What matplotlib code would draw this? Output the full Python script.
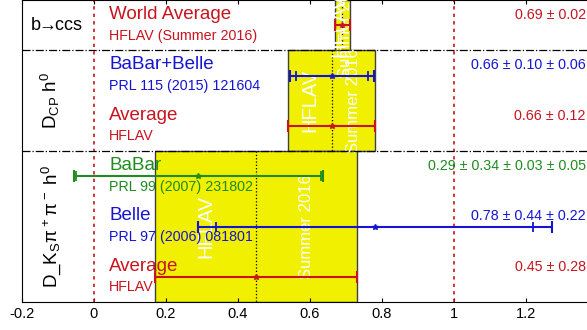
import numpy as np
import matplotlib
matplotlib.use("Agg")
import matplotlib.pyplot as plt
from matplotlib.patches import Rectangle

plt.rcParams['font.family'] = ['Liberation Sans', 'DejaVu Sans']
plt.rcParams['mathtext.fontset'] = 'custom'
plt.rcParams['mathtext.rm'] = 'Liberation Sans'
plt.rcParams['mathtext.it'] = 'Liberation Sans'

# groups of measurements
group_labels = [r'b$\!\!\rightarrow\!\!$ccs', r'D$_{CP}$ h$^0$', r'D_K$_S\pi^+\pi^-$ h$^0$']
group_sizes = [1, 2, 3]
group_avg = [0.69, 0.66, 0.45]
group_avg_err = [0.02, 0.12, 0.28]

# individual entries, top to bottom
names = ['World Average', 'BaBar+Belle', 'Average', 'BaBar', 'Belle', 'Average']
refs = ['HFLAV (Summer 2016)', 'PRL 115 (2015) 121604', 'HFLAV',
        'PRL 99 (2007) 231802', 'PRL 97 (2006) 081801', 'HFLAV']
central = [0.69, 0.66, 0.66, 0.29, 0.78, 0.45]
stat = [0.02, 0.10, 0.12, 0.34, 0.44, 0.28]
syst = [[], [0.06], [], [0.03, 0.05], [0.22], []]

RED = '#c8141e'
BLUE = '#1414d2'
GREEN = '#1e8c1e'
YELLOW = '#f0f000'
colors = [RED, BLUE, RED, GREEN, BLUE, RED]

fig = plt.figure(figsize=(5.87, 3.30), dpi=100)
ax = fig.add_axes([22 / 587, 28 / 330, 576 / 587, 302 / 330])
ax.set_xlim(-0.2, 1.4)
ax.set_ylim(6.5, 0.5)

# averaged bands per group
start = 0.5
for lab, n, c, e in zip(group_labels, group_sizes, group_avg, group_avg_err):
    y0, y1 = start, start + n
    band = Rectangle((c - e, y0), 2 * e, n, facecolor=YELLOW,
                     edgecolor='0.25', linewidth=1, zorder=1)
    ax.add_patch(band)
    ax.plot([c, c], [y0, y1], color='k', ls=':', lw=0.9, zorder=2)
    ym = (y0 + y1) / 2
    t1 = ax.text(c - 0.5 * e, ym, 'HFLAV', rotation=90, color='white',
                 fontsize=14.5, ha='center', va='center', zorder=3)
    t2 = ax.text(c + 0.5 * e, ym, 'Summer 2016', rotation=90, color='white',
                 fontsize=12, ha='center', va='center', zorder=3)
    for t in (t1, t2):
        t.set_clip_path(band)
    if n == 1:
        ax.text(-0.105, ym, lab, fontsize=13, ha='center', va='center')
    else:
        ax.text(-0.12, ym, lab, fontsize=13.5, ha='center', va='center',
                rotation=90)
    if start > 0.5:
        ax.axhline(y0, color='k', ls='-.', lw=0.9, zorder=4)
    start = y1

# reference lines
for xv in [0, 1]:
    ax.axvline(xv, color=RED, ls=(0, (2, 2.5)), lw=1.2, zorder=2)

# entries
for i, (nm, rf, c, s, sy, col) in enumerate(zip(names, refs, central, stat,
                                                  syst, colors)):
    y = i + 1
    tot = np.sqrt(s ** 2 + sum(v ** 2 for v in sy))
    ax.errorbar(c, y, xerr=tot, fmt='*', ms=4, color=col, ecolor=col,
                elinewidth=1.5, capsize=4, capthick=1.5, zorder=5)
    if sy:
        ax.plot([c - s, c + s], [y, y], ls='none', marker='|', ms=7,
                mew=1.3, color=col, zorder=5)
    ax.text(0.042, y - 0.21, nm, color=col, fontsize=13.5, va='center',
            ha='left', zorder=6)
    ax.text(0.042, y + 0.21, rf, color=col, fontsize=10.3, va='center',
            ha='left', zorder=6)
    lbl = '%.2f ± %.2f' % (c, s) + ''.join(' ± %.2f' % v for v in sy)
    ax.text(1.366, y - 0.2, lbl, color=col, fontsize=10.3, va='center',
            ha='right', zorder=6)

ax.set_yticks([])
ax.set_xticks([-0.2, 0, 0.2, 0.4, 0.6, 0.8, 1, 1.2])
ax.set_xticklabels(['-0.2', '0', '0.2', '0.4', '0.6', '0.8', '1', '1.2'])
ax.tick_params(axis='x', direction='in', top=True, length=3, labelsize=10.5)
ax.spines['right'].set_visible(False)

fig.savefig('out.png', dpi=100)
